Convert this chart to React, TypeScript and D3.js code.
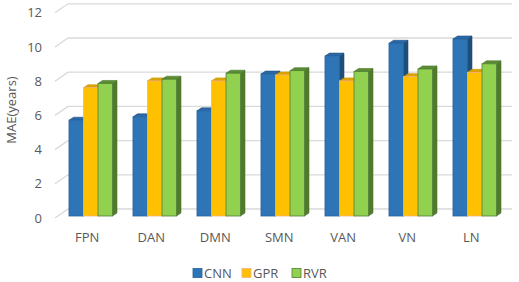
import React from "react";
import * as d3 from "d3";

const categories = ["FPN", "DAN", "DMN", "SMN", "VAN", "VN", "LN"];
const seriesNames = ["CNN", "GPR", "RVR"];
const cnnValues = [5.6, 5.8, 6.15, 8.3, 9.35, 10.1, 10.35];
const gprValues = [7.5, 7.9, 7.9, 8.25, 7.9, 8.15, 8.4];
const rvrValues = [7.75, 8.0, 8.35, 8.5, 8.45, 8.6, 8.9];
const yTicks = [0, 2, 4, 6, 8, 10, 12];

const seriesValues = [cnnValues, gprValues, rvrValues];
const styles = [
  { front: "#2E75B6", side: "#1F4E79", top: "#2A6AAA", stroke: "#2462A0" },
  { front: "#FFC000", side: "#C99700", top: "#D9A300", stroke: "#F4B183" },
  { front: "#92D050", side: "#4E7A2E", top: "#5B8C35", stroke: "#507E32" },
];

const W = 519;
const H = 282;
const DX = 4.5; // bar depth offset
const DY = -3;
const FLOOR_DX = 13;
const FLOOR_DY = -9;
const FONT = "'Open Sans', 'Liberation Sans', sans-serif";

export default function App() {
  const x0 = d3.scaleBand<string>().domain(categories).range([58.75, 506.75]).paddingInner(0.32).paddingOuter(0.16);
  const x1 = d3.scaleBand<string>().domain(seriesNames).range([0, x0.bandwidth()]);
  // bar front-plane scale
  const yBar = d3.scaleLinear().domain([0, 12]).range([216, 216 - 12 * 17.1]);
  // front edge of gridline (wall's front)
  const yGrid = d3.scaleLinear().domain([0, 12]).range([218, 218 - 12 * 17.1]);
  const gridLeft = 55;
  const gridRight = 512;

  return (
    <svg width={W} height={H} style={{ position: "absolute", left: 0, top: 0, background: "#fff" }}>
      {/* gridlines */}
      {yTicks.map((t) => {
        const yf = yGrid(t);
        return (
          <g key={t}>
            <polyline
              points={`${gridLeft},${yf} ${gridLeft + FLOOR_DX},${yf + FLOOR_DY} ${gridRight},${yf + FLOOR_DY}`}
              fill="none"
              stroke="#D9D9D9"
              strokeWidth={1.3}
            />
            <text x={42} y={yf} dy="0.35em" textAnchor="end" fontFamily={FONT} fontSize={13} fill="#595959">
              {t}
            </text>
          </g>
        );
      })}
      {/* bars */}
      {categories.map((c, ci) => (
        <g key={c}>
          {seriesNames.map((s, si) => {
            const v = seriesValues[si][ci];
            const xl = (x0(c) as number) + (x1(s) as number);
            const w = x1.bandwidth();
            const yt = yBar(v);
            const yb = yBar(0);
            const st = styles[si];
            return (
              <g key={s}>
                <polygon
                  points={`${xl + w},${yt} ${xl + w + DX},${yt + DY} ${xl + w + DX},${yb + DY} ${xl + w},${yb}`}
                  fill={st.side}
                  stroke={st.side}
                  strokeWidth={0.6}
                />
                <polygon
                  points={`${xl},${yt} ${xl + DX},${yt + DY} ${xl + w + DX},${yt + DY} ${xl + w},${yt}`}
                  fill={st.top}
                  stroke={st.side}
                  strokeWidth={0.6}
                />
                <rect x={xl} y={yt} width={w} height={yb - yt} fill={st.front} stroke={st.stroke} strokeWidth={0.8} />
              </g>
            );
          })}
          <text
            x={(x0(c) as number) + x0.bandwidth() / 2 - 3.5}
            y={237}
            dy="0.35em"
            textAnchor="middle"
            fontFamily={FONT}
            fontSize={13}
            fill="#595959"
          >
            {c}
          </text>
        </g>
      ))}
      {/* y axis title */}
      <text
        transform="translate(11,110) rotate(-90)"
        textAnchor="middle"
        dy="0.35em"
        fontFamily={FONT}
        fontSize={13}
        fill="#595959"
      >
        MAE(years)
      </text>
      {/* legend */}
      {seriesNames.map((s, si) => {
        const lx = [193, 242, 292][si];
        return (
          <g key={s}>
            <rect x={lx} y={268.5} width={9} height={9} fill={styles[si].front} stroke={styles[si].stroke} strokeWidth={0.8} />
            <text x={lx + 11} y={273} dy="0.35em" fontFamily={FONT} fontSize={13} fill="#595959">
              {s}
            </text>
          </g>
        );
      })}
    </svg>
  );
}
